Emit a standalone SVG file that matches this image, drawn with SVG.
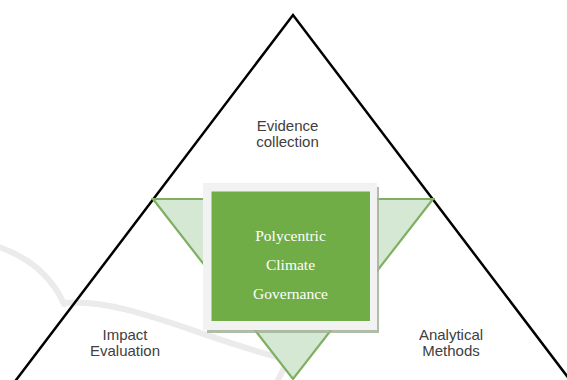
<svg xmlns="http://www.w3.org/2000/svg" width="567" height="380" viewBox="0 0 567 380">
<style>
.lbl{font-family:"Liberation Sans",Arial,sans-serif;font-size:15px;fill:#404040;text-anchor:middle}
.core{font-family:"Liberation Serif","Times New Roman",serif;font-size:15.5px;fill:#ffffff;text-anchor:middle}
.wm{fill:none;stroke:#ebebeb;stroke-width:6;stroke-linecap:round}
</style>
<rect width="567" height="380" fill="#ffffff"/>
<g id="watermark">
<path class="wm" d="M-4,246 Q45,262 64,304"/>
<path class="wm" d="M64,303 C125,298 195,336 288,360 L276,384"/>
</g>
<g id="outer-triangle">
<polyline points="10,388 293,15 576,388" fill="none" stroke="#000000" stroke-width="2.5" stroke-linejoin="miter"/>
</g>
<g id="inner-triangle">
<polygon points="153,199 433,199 293,379" fill="#d5e8d4" stroke="#7fb062" stroke-width="2.2" stroke-linejoin="miter"/>
</g>
<g id="core">
<rect x="207" y="187" width="172" height="146" fill="#a3b296" opacity="0.85"/>
<rect x="203" y="183" width="174" height="147" fill="#f2f2f2"/>
<rect x="211.5" y="191.5" width="158.5" height="129.5" fill="#70ad47"/>
<text class="core" x="290.5" y="241">Polycentric</text>
<text class="core" x="290.5" y="270">Climate</text>
<text class="core" x="290.5" y="299">Governance</text>
</g>
<g id="evidence">
<text class="lbl" x="287.5" y="130.5">Evidence</text>
<text class="lbl" x="287.5" y="146.5">collection</text>
</g>
<g id="impact">
<text class="lbl" x="125" y="340">Impact</text>
<text class="lbl" x="125" y="356">Evaluation</text>
</g>
<g id="analytical">
<text class="lbl" x="451" y="340">Analytical</text>
<text class="lbl" x="451" y="356">Methods</text>
</g>
</svg>
